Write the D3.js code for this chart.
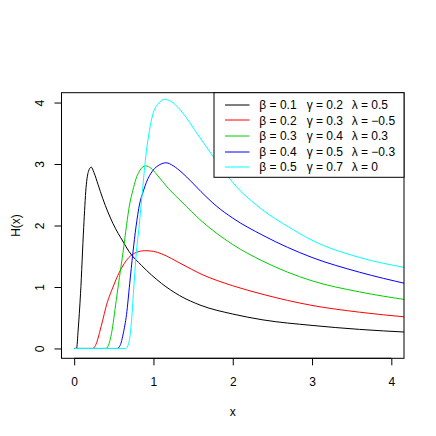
<!DOCTYPE html>
<html>
<head>
<meta charset="utf-8">
<script src="https://cdn.jsdelivr.net/npm/d3@7"></script>
<style>
  body { margin: 0; background: #fff; }
  svg { display: block; }
  text { font-family: "Liberation Sans", Arial, Helvetica, sans-serif; fill: #000; }
</style>
</head>
<body>
<div id="chart"></div>
<script>
// box of the plot region, as in the R picture
const WIDTH = 436;
const HEIGHT = 436;
const BOX = { left: 61.5, right: 404, top: 92.7, bottom: 358.3 };

const xTicks = [0, 1, 2, 3, 4];
const yTicks = [0, 1, 2, 3, 4];

// values, one pair of arrays per curve
const x1 = [0, 0.03, 0.05, 0.08, 0.12, 0.15, 0.18, 0.215, 0.25, 0.30, 0.36, 0.49, 0.62, 0.69, 0.85, 1.1, 1.33, 1.6, 2.0, 2.38, 3.0, 3.6, 4.2];
const y1 = [0, 0, 0.3, 0.89, 1.97, 2.62, 2.88, 2.95, 2.86, 2.67, 2.44, 2.03, 1.73, 1.58, 1.35, 1.06, 0.86, 0.70, 0.56, 0.465, 0.375, 0.31, 0.265];

const x2 = [0, 0.235, 0.26, 0.29, 0.32, 0.36, 0.40, 0.49, 0.57, 0.69, 0.78, 0.89, 1.0, 1.1, 1.36, 1.6, 2.0, 2.38, 3.0, 3.6, 4.2];
const y2 = [0, 0, 0.03, 0.12, 0.26, 0.46, 0.67, 1.0, 1.24, 1.48, 1.56, 1.59, 1.58, 1.54, 1.37, 1.21, 1.02, 0.88, 0.70, 0.59, 0.51];

const x3 = [0, 0.40, 0.44, 0.47, 0.53, 0.57, 0.62, 0.66, 0.70, 0.74, 0.78, 0.825, 0.90, 0.97, 1.035, 1.19, 1.36, 1.6, 2.0, 2.38, 3.0, 3.6, 4.2];
const y3 = [0, 0, 0.08, 0.24, 0.78, 1.15, 1.6, 2.0, 2.35, 2.57, 2.76, 2.89, 2.97, 2.93, 2.84, 2.6, 2.38, 2.08, 1.69, 1.42, 1.10, 0.92, 0.79];

const x4 = [0, 0.54, 0.58, 0.62, 0.66, 0.70, 0.74, 0.78, 0.825, 0.87, 0.91, 0.99, 1.08, 1.16, 1.25, 1.36, 1.48, 1.6, 1.8, 2.0, 2.38, 3.0, 3.6, 4.2];
const y4 = [0, 0, 0.05, 0.25, 0.55, 1.05, 1.55, 1.98, 2.35, 2.55, 2.7, 2.89, 2.99, 3.02, 2.97, 2.86, 2.71, 2.55, 2.31, 2.12, 1.84, 1.48, 1.24, 1.05];

const x5 = [0, 0.65, 0.69, 0.72, 0.75, 0.78, 0.82, 0.86, 0.91, 0.95, 0.99, 1.06, 1.14, 1.22, 1.33, 1.58, 1.81, 2.0, 2.38, 2.7, 3.0, 3.6, 4.2];
const y5 = [0, 0, 0.1, 0.4, 0.95, 1.5, 2.0, 2.55, 3.2, 3.55, 3.8, 3.98, 4.05, 4.02, 3.89, 3.44, 3.02, 2.70, 2.25, 1.98, 1.76, 1.48, 1.31];

const colors = ["#000000", "#FF0000", "#00CD00", "#0000FF", "#00FFFF"];
const betas = ["0.1", "0.2", "0.3", "0.4", "0.5"];
const gammas = ["0.2", "0.3", "0.4", "0.5", "0.7"];
const lambdas = ["0.5", "\u22120.5", "0.3", "\u22120.3", "0"];

const curves = [[x1, y1], [x2, y2], [x3, y3], [x4, y4], [x5, y5]];

draw();

function draw () {
  let svg = d3.select("#chart")
    .append("svg")
    .attr("width", WIDTH)
    .attr("height", HEIGHT);

  // R pads the ranges 0..4 by 4% on each side
  let xScale = d3.scaleLinear().domain([-0.16, 4.16]).range([BOX.left, BOX.right]);
  let yScale = d3.scaleLinear().domain([-0.16, 4.16]).range([BOX.bottom, BOX.top]);

  svg.append("clipPath").attr("id", "plotclip")
    .append("rect")
    .attr("x", BOX.left).attr("y", BOX.top)
    .attr("width", BOX.right - BOX.left).attr("height", BOX.bottom - BOX.top);

  let line = d3.line()
    .x(d => xScale(d[0]))
    .y(d => yScale(d[1]))
    .curve(d3.curveMonotoneX);

  let g = svg.append("g").attr("clip-path", "url(#plotclip)");
  curves.forEach((c, i) => {
    let pts = c[0].map((x, j) => [x, c[1][j]]);
    g.append("path")
      .attr("d", line(pts))
      .attr("fill", "none")
      .attr("stroke", colors[i])
      .attr("stroke-width", 1);
  });

  // axes: ticks go outwards, labels as in R
  let xAxis = d3.axisBottom(xScale).tickValues(xTicks).tickSize(7).tickFormat(d3.format("d"));
  let gx = svg.append("g")
    .attr("transform", "translate(0," + BOX.bottom + ")")
    .call(xAxis);
  gx.select(".domain").attr("d", "M" + xScale(0) + ",0H" + xScale(4));
  gx.selectAll("text").attr("font-size", 12).attr("font-family", null).attr("dy", null).attr("y", 28.2);

  let yAxis = d3.axisLeft(yScale).tickValues(yTicks).tickSize(7).tickFormat(d3.format("d"));
  let gy = svg.append("g")
    .attr("transform", "translate(" + BOX.left + ",0)")
    .call(yAxis);
  gy.select(".domain").attr("d", "M0," + yScale(0) + "V" + yScale(4));
  gy.selectAll("text")
    .attr("font-size", 12)
    .attr("font-family", null)
    .attr("x", null).attr("dy", null)
    .attr("text-anchor", "middle")
    .attr("transform", "translate(-18,0) rotate(-90)");
  svg.selectAll(".tick line").attr("stroke", "#000");
  svg.selectAll(".domain").attr("stroke", "#000");

  // plot box
  svg.append("rect")
    .attr("x", BOX.left).attr("y", BOX.top)
    .attr("width", BOX.right - BOX.left).attr("height", BOX.bottom - BOX.top)
    .attr("fill", "none").attr("stroke", "#000").attr("stroke-width", 1);

  svg.append("text")
    .attr("x", (BOX.left + BOX.right) / 2).attr("y", 416)
    .attr("text-anchor", "middle").attr("font-size", 12)
    .text("x");
  svg.append("text")
    .attr("transform", "translate(20," + (BOX.top + BOX.bottom) / 2 + ") rotate(-90)")
    .attr("text-anchor", "middle").attr("font-size", 12)
    .text("H(x)");

  // legend, top right, white filled box
  let lg = svg.append("g");
  lg.append("rect")
    .attr("x", 214).attr("y", BOX.top)
    .attr("width", BOX.right - 214).attr("height", 177.3 - BOX.top)
    .attr("fill", "#fff").attr("stroke", "#000").attr("stroke-width", 1);
  betas.forEach((b, i) => {
    let yy = 104.7 + i * 15.6;
    lg.append("line")
      .attr("x1", 225).attr("x2", 249.5)
      .attr("y1", Math.round(yy)).attr("y2", Math.round(yy))
      .attr("stroke", colors[i]).attr("stroke-width", 1);
    let cols = [["\u03b2", b, 259.3], ["\u03b3", gammas[i], 306.7], ["\u03bb", lambdas[i], 351.7]];
    cols.forEach(c => {
      lg.append("text")
        .attr("x", c[2]).attr("y", yy + 4.3)
        .attr("font-size", 12)
        .attr("xml:space", "preserve")
        .text(c[0] + " = " + c[1]);
    });
  });
}
</script>
</body>
</html>
